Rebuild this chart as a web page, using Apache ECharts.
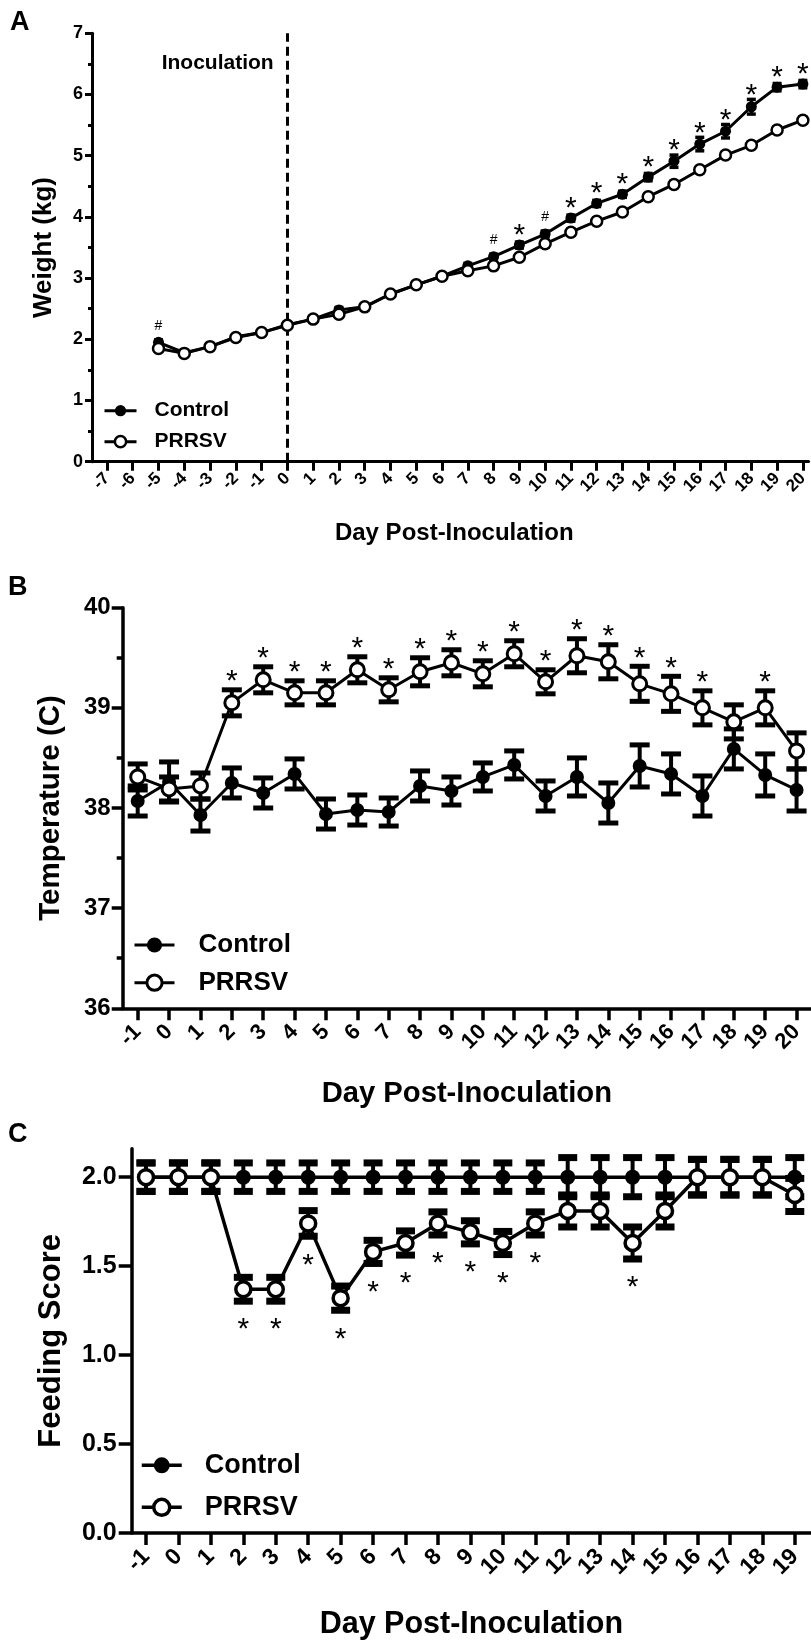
<!DOCTYPE html>
<html>
<head>
<meta charset="utf-8">
<script src="https://cdn.jsdelivr.net/npm/echarts@6/dist/echarts.min.js"></script>
<style>
html,body{margin:0;padding:0;background:#fff;}
#chart{width:811px;height:1641px;}
</style>
</head>
<body>
<div id="chart"></div>
<script>
// ---------- Panel A: weight ----------
const ticksA = [-7,-6,-5,-4,-3,-2,-1,0,1,2,3,4,5,6,7,8,9,10,11,12,13,14,15,16,17,18,19,20];
const daysA = [-5,-4,-3,-2,-1,0,1,2,3,4,5,6,7,8,9,10,11,12,13,14,15,16,17,18,19,20];
const weightControl = [1.95,1.78,1.88,2.04,2.11,2.24,2.33,2.48,2.53,2.74,2.89,3.03,3.20,3.35,3.54,3.72,3.98,4.22,4.37,4.65,4.91,5.19,5.40,5.80,6.12,6.17];
const weightControlErr = [0.04,0.03,0.03,0.03,0.03,0.03,0.03,0.04,0.04,0.04,0.04,0.04,0.04,0.04,0.05,0.05,0.05,0.05,0.05,0.06,0.10,0.11,0.11,0.12,0.06,0.06];
const weightPrrsv = [1.85,1.77,1.88,2.03,2.11,2.23,2.33,2.41,2.53,2.74,2.89,3.03,3.12,3.20,3.34,3.56,3.75,3.93,4.08,4.33,4.53,4.77,5.01,5.17,5.42,5.58];
const weightPrrsvErr = [0.03,0.03,0.03,0.03,0.03,0.03,0.03,0.04,0.04,0.04,0.04,0.04,0.04,0.04,0.04,0.05,0.05,0.05,0.05,0.05,0.05,0.05,0.05,0.05,0.05,0.05];
const sigA = ['#','','','','','','','','','','','','','#','*','#','*','*','*','*','*','*','*','*','*','*'];
const yTicksA = [0,1,2,3,4,5,6,7];

// ---------- Panel B: temperature ----------
const daysB = [-1,0,1,2,3,4,5,6,7,8,9,10,11,12,13,14,15,16,17,18,19,20];
const tempControl = [38.07,38.26,37.93,38.25,38.15,38.34,37.94,37.98,37.96,38.22,38.17,38.31,38.43,38.12,38.31,38.05,38.42,38.34,38.12,38.59,38.33,38.18];
const tempControlErr = [0.15,0.20,0.16,0.15,0.15,0.15,0.15,0.15,0.14,0.15,0.14,0.14,0.14,0.15,0.19,0.20,0.21,0.20,0.20,0.20,0.21,0.21];
const tempPrrsv = [38.31,38.19,38.22,39.05,39.28,39.15,39.15,39.38,39.18,39.36,39.45,39.34,39.54,39.26,39.52,39.46,39.24,39.14,39.00,38.86,39.00,38.57];
const tempPrrsvErr = [0.13,0.12,0.13,0.13,0.13,0.12,0.12,0.13,0.12,0.14,0.13,0.13,0.13,0.12,0.17,0.17,0.175,0.175,0.17,0.17,0.17,0.18];
const sigB = ['','','','*','*','*','*','*','*','*','*','*','*','*','*','*','*','*','*','','*',''];

// ---------- Panel C: feeding score ----------
const daysC = [-1,0,1,2,3,4,5,6,7,8,9,10,11,12,13,14,15,16,17,18,19];
const feedControl = [2,2,2,2,2,2,2,2,2,2,2,2,2,2,2,2,2,2,2,2,2];
const feedControlErr = [0.08,0.08,0.08,0.08,0.08,0.08,0.08,0.08,0.08,0.08,0.08,0.08,0.08,0.11,0.11,0.11,0.11,0.10,0.10,0.10,0.11];
const feedPrrsv = [2,2,2,1.37,1.37,1.74,1.32,1.58,1.63,1.74,1.69,1.63,1.74,1.81,1.81,1.63,1.81,2,2,2,1.9];
const feedPrrsvErr = [0.08,0.08,0.08,0.067,0.067,0.072,0.068,0.065,0.068,0.065,0.065,0.065,0.065,0.09,0.09,0.09,0.09,0.10,0.10,0.10,0.093];
const sigC = ['','','','*','*','*','*','*','*','*','*','*','*','','','*','','','','',''];
const yTicksC = [0,0.5,1,1.5,2];

const FONT = '"Liberation Sans", Arial, Helvetica, sans-serif';
const BLACK = '#000';

function pts(days, vals) { return days.map((d, i) => [d, vals[i]]); }
function errPts(days, vals, errs) { return days.map((d, i) => [d, vals[i], errs[i]]); }

function errRenderer(capW, capT, stemW) {
  return function (params, api) {
    const x = api.value(0), v = api.value(1), e = api.value(2);
    const top = api.coord([x, v + e]);
    const bot = api.coord([x, v - e]);
    const cx = top[0];
    return {
      type: 'group',
      children: [
        {type: 'line', shape: {x1: cx, y1: top[1], x2: cx, y2: bot[1]}, style: {stroke: BLACK, lineWidth: stemW}},
        {type: 'line', shape: {x1: cx - capW / 2, y1: top[1], x2: cx + capW / 2, y2: top[1]}, style: {stroke: BLACK, lineWidth: capT}},
        {type: 'line', shape: {x1: cx - capW / 2, y1: bot[1], x2: cx + capW / 2, y2: bot[1]}, style: {stroke: BLACK, lineWidth: capT}}
      ]
    };
  };
}

function sigRenderer(sig, below, gap, markerR, starFont, hashFont, starShift) {
  return function (params, api) {
    const t = sig[params.dataIndex];
    if (!t) return null;
    const x = api.value(0), v = api.value(1), e = api.value(2);
    const pv = api.coord([x, v]);
    let y;
    if (!below) {
      const pt = api.coord([x, v + e]);
      y = Math.min(pt[1], pv[1] - markerR) - gap;
    } else {
      const pb = api.coord([x, v - e]);
      y = Math.max(pb[1], pv[1] + markerR) + gap;
    }
    const isStar = t === '*';
    return {
      type: 'text',
      x: pv[0],
      y: y + (isStar ? starShift : 0),
      style: {text: t, font: isStar ? starFont : hashFont, fill: BLACK, align: 'center', verticalAlign: 'middle'}
    };
  };
}

function xAxisCfg(grid, min, max, ticks, o) {
  return {
    type: 'value', gridIndex: grid, min: min, max: max,
    axisLine: {show: true, onZero: false, lineStyle: {color: BLACK, width: o.lineW}},
    axisTick: {show: true, customValues: ticks, length: o.tickLen, lineStyle: {color: BLACK, width: o.lineW}},
    axisLabel: {show: true, customValues: ticks, rotate: 45, margin: o.labelMargin,
      fontSize: o.labelSize, fontWeight: 'bold', fontFamily: FONT, color: BLACK},
    splitLine: {show: false},
    name: 'Day Post-Inoculation', nameLocation: 'middle', nameGap: o.nameGap,
    nameTextStyle: {fontSize: o.nameSize, fontWeight: 'bold', fontFamily: FONT, color: BLACK, padding: o.namePad || 0}
  };
}

function yAxisCfg(grid, min, max, o) {
  const cfg = {
    type: 'value', gridIndex: grid, min: min, max: max,
    axisLine: {show: true, onZero: false, lineStyle: {color: BLACK, width: o.lineW}},
    axisTick: {show: true, length: o.tickLen, lineStyle: {color: BLACK, width: o.lineW}},
    axisLabel: {show: true, margin: o.labelMargin, fontSize: o.labelSize, fontWeight: 'bold', fontFamily: FONT, color: BLACK},
    splitLine: {show: false},
    name: o.name, nameLocation: 'middle', nameRotate: 90, nameGap: o.nameGap,
    nameTextStyle: {fontSize: o.nameSize, fontWeight: 'bold', fontFamily: FONT, color: BLACK}
  };
  if (o.interval) cfg.interval = o.interval;
  if (o.customValues) {
    cfg.axisTick.customValues = o.customValues;
    cfg.axisLabel.customValues = o.customValues;
  }
  if (o.labelFormatter) cfg.axisLabel.formatter = o.labelFormatter;
  if (o.minor) cfg.minorTick = {show: true, splitNumber: 2, length: o.minorLen, lineStyle: {color: BLACK, width: o.lineW}};
  return cfg;
}

function lineSeries(name, xi, data, filled, size, lineW, borderW, z, extra) {
  const s = {
    type: 'line', name: name, xAxisIndex: xi, yAxisIndex: xi, data: data,
    symbol: 'circle', symbolSize: size, showSymbol: true,
    lineStyle: {color: BLACK, width: lineW},
    itemStyle: filled ? {color: BLACK, borderColor: BLACK, borderWidth: 0} : {color: '#fff', borderColor: BLACK, borderWidth: borderW},
    emphasis: {disabled: true}, z: z, silent: true
  };
  return Object.assign(s, extra || {});
}

function errSeries(xi, data, capW, capT, stemW, z) {
  return {type: 'custom', xAxisIndex: xi, yAxisIndex: xi, data: data, renderItem: errRenderer(capW, capT, stemW), z: z, silent: true};
}
function sigSeries(xi, data, renderer, z) {
  return {type: 'custom', xAxisIndex: xi, yAxisIndex: xi, data: data, renderItem: renderer, z: z, silent: true};
}

function legendCfg(name, left, top, itemW, itemH, fontSize, textPad, filled, lineW, borderW) {
  return {
    data: [name], left: left, top: top, padding: 0, orient: 'horizontal',
    itemWidth: itemW, itemHeight: itemH, selectedMode: false,
    formatter: function (n) { return n.split('|')[0]; },
    itemStyle: filled ? {color: BLACK, borderColor: BLACK, borderWidth: 0} : {color: '#fff', borderColor: BLACK, borderWidth: borderW},
    lineStyle: {color: BLACK, width: lineW},
    textStyle: {fontSize: fontSize, fontWeight: 'bold', fontFamily: FONT, color: BLACK, padding: [0, 0, 0, textPad]}
  };
}

const chart = echarts.init(document.getElementById('chart'), null, {renderer: 'canvas'});

const option = {
  animation: false,
  backgroundColor: '#fff',
  grid: [
    {left: 92, top: 33.3, width: 719, height: 428.4},
    {left: 122.7, top: 607.7, width: 688.3, height: 400.6},
    {left: 131.7, top: 1148.7, width: 679.3, height: 386.3}
  ],
  xAxis: [
    xAxisCfg(0, -7.58, 20.22, ticksA, {lineW: 3, tickLen: 9, labelMargin: 14, labelSize: 17, nameGap: 60, nameSize: 24, namePad: [0, 0, 0, 8]}),
    xAxisCfg(1, -1.478, 20.46, daysB, {lineW: 3.5, tickLen: 12, labelMargin: 20, labelSize: 22, nameGap: 71, nameSize: 29.2}),
    xAxisCfg(2, -1.441, 19.5, daysC, {lineW: 3.5, tickLen: 12, labelMargin: 20, labelSize: 23, nameGap: 76, nameSize: 30.5})
  ],
  yAxis: [
    yAxisCfg(0, 0, 7, {lineW: 3, tickLen: 7, labelMargin: 9, labelSize: 18, name: 'Weight (kg)', nameGap: 35, nameSize: 26, interval: 1, minor: true, minorLen: 4}),
    yAxisCfg(1, 36, 40, {lineW: 3.5, tickLen: 11, labelMargin: 12, labelSize: 24, name: 'Temperature (C)', nameGap: 57, nameSize: 29.5, interval: 1, minor: true, minorLen: 6}),
    yAxisCfg(2, 0, 2.16, {lineW: 3.5, tickLen: 13, labelMargin: 15, labelSize: 25, name: 'Feeding Score', nameGap: 65, nameSize: 31, customValues: yTicksC,
      labelFormatter: function (v) { return v.toFixed(1); }})
  ],
  legend: [
    legendCfg('Control|A', 103, 400.2, 32, 14, 21, 13, true, 3, 0),
    legendCfg('PRRSV|A', 103, 431.2, 32, 14, 21, 13, false, 3, 2.5),
    legendCfg('Control|B', 133, 932, 40, 19, 26, 19, true, 3, 0),
    legendCfg('PRRSV|B', 133, 969.7, 40, 19, 26, 19, false, 3, 3),
    legendCfg('Control|C', 140, 1451.8, 40, 20, 27, 18, true, 3.5, 0),
    legendCfg('PRRSV|C', 140, 1493.8, 40, 20, 27, 18, false, 3.5, 3.5)
  ],
  graphic: [
    {type: 'text', left: 10, top: 9, style: {text: 'A', font: 'bold 27px ' + FONT, fill: BLACK}},
    {type: 'text', left: 8, top: 574, style: {text: 'B', font: 'bold 27px ' + FONT, fill: BLACK}},
    {type: 'text', left: 8, top: 1121, style: {text: 'C', font: 'bold 27px ' + FONT, fill: BLACK}},
    {type: 'text', left: 161.7, top: 53, style: {text: 'Inoculation', font: 'bold 21px ' + FONT, fill: BLACK}}
  ],
  series: [
    // Panel A
    errSeries(0, errPts(daysA, weightControl, weightControlErr), 9, 3.5, 3, 2),
    lineSeries('Control|A', 0, pts(daysA, weightControl), true, 11, 3, 0, 3, {
      markLine: {silent: true, symbol: 'none', label: {show: false},
        lineStyle: {type: [9, 5], width: 3, color: BLACK}, data: [{xAxis: 0}]}
    }),
    errSeries(0, errPts(daysA, weightPrrsv, weightPrrsvErr), 9, 3.5, 3, 4),
    lineSeries('PRRSV|A', 0, pts(daysA, weightPrrsv), false, 11, 3, 2.5, 5),
    sigSeries(0, errPts(daysA, weightControl, weightControlErr),
      sigRenderer(sigA, false, 11, 5.5, '30px ' + FONT, '14px ' + FONT, 7), 6),
    // Panel B
    errSeries(1, errPts(daysB, tempControl, tempControlErr), 20, 5, 4, 2),
    lineSeries('Control|B', 1, pts(daysB, tempControl), true, 14, 3, 0, 3),
    errSeries(1, errPts(daysB, tempPrrsv, tempPrrsvErr), 20, 5, 4, 4),
    lineSeries('PRRSV|B', 1, pts(daysB, tempPrrsv), false, 14, 3, 3, 5),
    sigSeries(1, errPts(daysB, tempPrrsv, tempPrrsvErr),
      sigRenderer(sigB, false, 15, 7, '30px ' + FONT, '14px ' + FONT, 7), 6),
    // Panel C
    errSeries(2, errPts(daysC, feedControl, feedControlErr), 19, 7, 4, 2),
    lineSeries('Control|C', 2, pts(daysC, feedControl), true, 15, 3.5, 0, 3),
    errSeries(2, errPts(daysC, feedPrrsv, feedPrrsvErr), 19, 7, 4, 4),
    lineSeries('PRRSV|C', 2, pts(daysC, feedPrrsv), false, 15, 3.5, 3.5, 5),
    sigSeries(2, errPts(daysC, feedPrrsv, feedPrrsvErr),
      sigRenderer(sigC, true, 22, 7.5, '30px ' + FONT, '14px ' + FONT, 7), 6)
  ]
};

chart.setOption(option);
</script>
</body>
</html>
